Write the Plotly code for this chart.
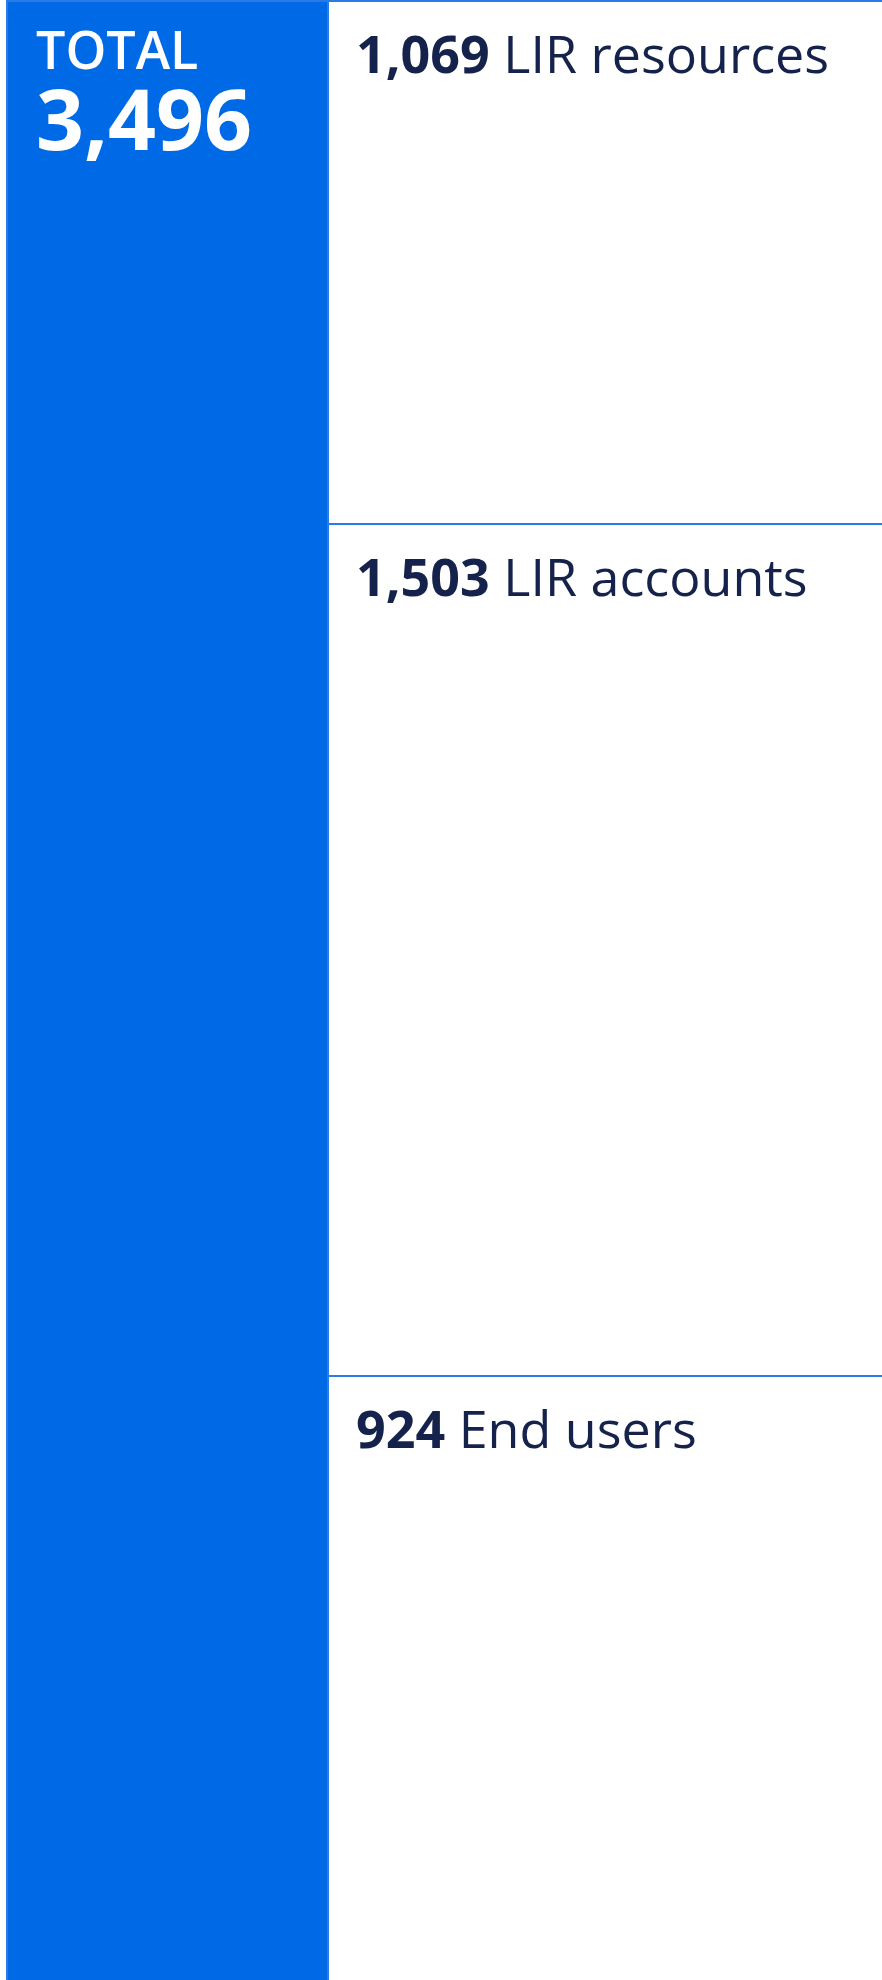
import plotly.graph_objects as go

# Data
categories = ["LIR resources", "LIR accounts", "End users"]
values = [1069, 1503, 924]
total_label = "TOTAL"
total = sum(values)

BLUE = "#006AE6"
EDGE = "#2A7BE6"
NAVY = "#15224B"
FONT = "Open Sans"

fig = go.Figure()

# Total column
fig.add_trace(go.Bar(
    x=[167.5], y=[total], width=[321],
    marker=dict(color=BLUE, line=dict(color=EDGE, width=2)),
    hoverinfo="skip", showlegend=False,
))

# Stacked breakdown column
for cat, val in zip(categories, values):
    fig.add_trace(go.Bar(
        x=[628], y=[val], width=[600], name=cat,
        marker=dict(color="white", line=dict(color=EDGE, width=2)),
        hoverinfo="skip", showlegend=False,
    ))

annotations = []
annotations.append(dict(
    x=34, y=total, xref="x", yref="y", xanchor="left", yanchor="top", align="left",
    text=(f"<span style='font-size:52px;font-weight:600'>{total_label}</span>"
          f"<br><span style='font-size:84px;font-weight:700'>{total:,}</span>"),
    showarrow=False, yshift=-10,
    font=dict(family=FONT, size=62, color="white"),
))

# label positions: top edges of the displayed segments, top to bottom
tops = []
acc = total
for v in reversed(values):
    tops.append(acc)
    acc -= v
for cat, val, top in zip(categories, values, tops):
    annotations.append(dict(
        x=354, y=top, xref="x", yref="y", xanchor="left", yanchor="top",
        text=f"<b>{val:,}</b> {cat}", showarrow=False, yshift=-14,
        font=dict(family=FONT, size=52, color=NAVY),
    ))

fig.update_layout(
    width=882, height=1980,
    margin=dict(l=0, r=0, t=0, b=0),
    paper_bgcolor="white", plot_bgcolor="white",
    barmode="stack", bargap=0,
    showlegend=False,
    xaxis=dict(range=[0, 882], visible=False, fixedrange=True),
    yaxis=dict(range=[total * 0.0006, total * 1.0005], visible=False, fixedrange=True),
    annotations=annotations,
)

fig.write_html(
    "out.html",
    config={"displayModeBar": False, "staticPlot": True},
    post_script="document.body.style.margin='0';document.body.style.overflow='hidden';",
)
